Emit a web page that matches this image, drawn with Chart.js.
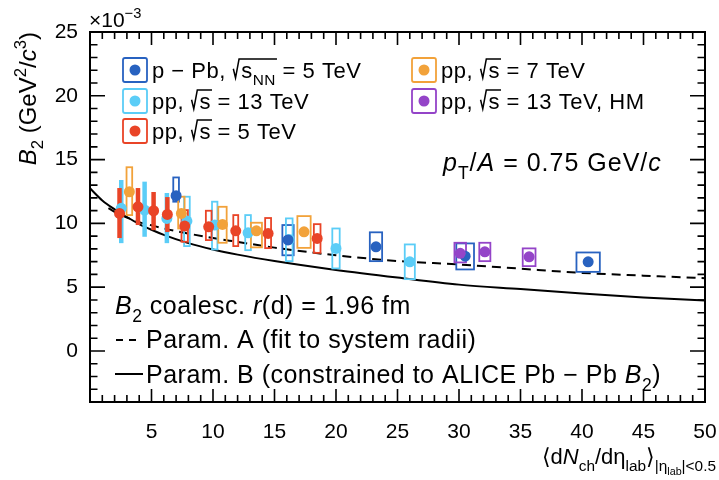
<!DOCTYPE html>
<html>
<head>
<meta charset="utf-8">
<script src="https://cdn.jsdelivr.net/npm/chart.js@4.4.1/dist/chart.umd.min.js"></script>
<style>
  html, body { margin: 0; padding: 0; background: #fff; }
</style>
</head>
<body>
<canvas id="myChart" width="719" height="480"></canvas>
<script>
//tick labels
var xTickLabels = [5, 10, 15, 20, 25, 30, 35, 40, 45, 50];
var yTickLabels = [0, 5, 10, 15, 20, 25];

//p-Pb, 5 TeV
var pPbX = [7.0, 16.1, 23.25, 30.5, 40.5];
var pPbY = [12.17, 8.7, 8.16, 7.43, 6.99];
var pPbLo = [11.7, 7.5, 7.04, 6.39, 6.2];
var pPbHi = [13.6, 9.87, 9.3, 8.43, 7.72];
var pPbXErr = [0.23, 0.46, 0.5, 0.72, 0.95];

//pp, 13 TeV (xErr 0 = stat bar only)
var pp13X = [2.54, 4.44, 6.25, 7.88, 10.14, 12.85, 16.2, 20.0, 26.0];
var pp13Y = [11.18, 11.04, 10.39, 10.18, 9.87, 9.26, 8.74, 8.04, 6.99];
var pp13Lo = [8.45, 8.95, 8.45, 8.22, 7.96, 7.9, 7.04, 6.47, 5.63];
var pp13Hi = [13.4, 13.27, 12.38, 12.09, 11.7, 10.65, 10.39, 9.6, 8.35];
var pp13XErr = [0, 0, 0, 0.23, 0.22, 0.23, 0.27, 0.3, 0.41];

//pp, 5 TeV
var pp5X = [2.4, 3.9, 5.17, 6.29, 7.7, 9.65, 11.85, 14.48, 18.47];
var pp5Y = [10.78, 11.3, 10.99, 10.7, 9.79, 9.73, 9.42, 9.21, 8.82];
var pp5Lo = [8.85, 9.87, 9.47, 9.32, 8.56, 8.69, 8.22, 8.06, 7.69];
var pp5Hi = [12.77, 12.77, 12.46, 12.06, 11.04, 10.99, 10.65, 10.42, 9.94];
var pp5XErr = [0, 0, 0, 0, 0.26, 0.23, 0.2, 0.24, 0.27];

//pp, 7 TeV
var pp7X = [3.2, 7.43, 10.77, 13.53, 17.4];
var pp7Y = [12.48, 10.78, 9.92, 9.42, 9.34];
var pp7Lo = [10.65, 9.6, 8.48, 8.12, 8.08];
var pp7Hi = [14.4, 12.09, 11.3, 10.05, 10.57];
var pp7XErr = [0.23, 0.26, 0.34, 0.45, 0.54];

//pp, 13 TeV HM
var hmX = [30.1, 32.1, 35.7];
var hmY = [7.65, 7.77, 7.38];
var hmLo = [6.94, 7.04, 6.65];
var hmHi = [8.48, 8.48, 8.04];
var hmXErr = [0.47, 0.45, 0.52];

//coalescence curves
var paramAX = [1.5, 2, 3, 4, 5, 6, 8, 10, 12, 15, 20, 25, 30, 35, 40, 45, 50];
var paramAY = [11.2, 10.9, 10.45, 10.1, 9.85, 9.6, 9.2, 8.85, 8.55, 8.1, 7.5, 7.05, 6.78, 6.45, 6.12, 5.9, 5.7];
var paramBX = [0, 1, 2, 3, 4, 5, 6, 8, 10, 12, 15, 20, 25, 30, 35, 40, 45, 50];
var paramBY = [12.75, 11.8, 11.1, 10.5, 9.95, 9.5, 9.1, 8.45, 7.95, 7.55, 7.05, 6.35, 5.75, 5.2, 4.85, 4.5, 4.2, 3.95];

var FONT = '"Liberation Sans", "DejaVu Sans", Arial, sans-serif';

var series = [
    { x: pPbX, y: pPbY, lo: pPbLo, hi: pPbHi, w: pPbXErr, color: '#2862c0', order: 4 },
    { x: pp13X, y: pp13Y, lo: pp13Lo, hi: pp13Hi, w: pp13XErr, color: '#5bcdf7', order: 5 },
    { x: pp5X, y: pp5Y, lo: pp5Lo, hi: pp5Hi, w: pp5XErr, color: '#e94427', order: 2 },
    { x: pp7X, y: pp7Y, lo: pp7Lo, hi: pp7Hi, w: pp7XErr, color: '#f2a23a', order: 3 },
    { x: hmX, y: hmY, lo: hmLo, hi: hmHi, w: hmXErr, color: '#9444c8', order: 1 }
];

function sq(inner) { return { sqrt: inner }; }
var legendItems = [
    { s: 0, col: 0, row: 0, parts: [{ t: 'p \u2212 Pb, ' }, sq([{ t: 's' }, { sub: [{ t: 'NN' }] }]), { t: ' = 5 TeV' }] },
    { s: 3, col: 1, row: 0, parts: [{ t: 'pp, ' }, sq([{ t: 's' }]), { t: ' = 7 TeV' }] },
    { s: 1, col: 0, row: 1, parts: [{ t: 'pp, ' }, sq([{ t: 's' }]), { t: ' = 13 TeV' }] },
    { s: 4, col: 1, row: 1, parts: [{ t: 'pp, ' }, sq([{ t: 's' }]), { t: ' = 13 TeV, HM' }] },
    { s: 2, col: 0, row: 2, parts: [{ t: 'pp, ' }, sq([{ t: 's' }]), { t: ' = 5 TeV' }] }
];

//draw text with sub/superscripts, returns width
function rich(ctx, parts, x, y, size, draw) {
    var cx = x;
    parts.forEach(function (p) {
        if (p.sub) { cx += rich(ctx, p.sub, cx, y + size * 0.3, size * 0.7, draw); return; }
        if (p.sup) { cx += rich(ctx, p.sup, cx, y - size * 0.42, size * 0.7, draw); return; }
        if (p.sqrt) {
            var w0 = size * 0.4;
            var inner = rich(ctx, p.sqrt, 0, 0, size, false);
            if (draw) {
                ctx.save();
                ctx.lineWidth = 1.5;
                ctx.strokeStyle = '#000';
                ctx.beginPath();
                ctx.moveTo(cx + size * 0.04, y - size * 0.42);
                ctx.lineTo(cx + size * 0.14, y);
                ctx.lineTo(cx + size * 0.3, y - size * 0.86);
                ctx.lineTo(cx + w0 + inner + 1, y - size * 0.86);
                ctx.stroke();
                ctx.restore();
                rich(ctx, p.sqrt, cx + w0, y, size, true);
            }
            cx += w0 + inner;
            return;
        }
        ctx.font = (p.it ? 'italic ' : '') + size + 'px ' + FONT;
        if (draw) ctx.fillText(p.t, cx, y);
        cx += ctx.measureText(p.t).width;
    });
    return cx - x;
}

var overlay = {
    id: 'overlay',
    beforeDatasetsDraw: function (chart) { chart.$errDone = false; },
    beforeDatasetDraw: function (chart, args) {
        if (chart.$errDone || !chart.data.datasets[args.index].marker) return;
        chart.$errDone = true;
        var ctx = chart.ctx, xs = chart.scales.x, ys = chart.scales.y, a = chart.chartArea;
        ctx.save();
        ctx.beginPath();
        ctx.rect(a.left, a.top, a.right - a.left, a.bottom - a.top);
        ctx.clip();
        series.forEach(function (s) {
            ctx.strokeStyle = s.color;
            for (var i = 0; i < s.x.length; i++) {
                var px = xs.getPixelForValue(s.x[i]);
                var top = ys.getPixelForValue(s.hi[i]);
                var bot = ys.getPixelForValue(s.lo[i]);
                if (s.w[i] > 0) {
                    var l = xs.getPixelForValue(s.x[i] - s.w[i]);
                    var r = xs.getPixelForValue(s.x[i] + s.w[i]);
                    ctx.lineWidth = 1.8;
                    ctx.strokeRect(l, top, r - l, bot - top);
                } else {
                    ctx.lineWidth = 4.5;
                    ctx.beginPath();
                    ctx.moveTo(px, top);
                    ctx.lineTo(px, bot);
                    ctx.stroke();
                }
            }
        });
        ctx.restore();
    },
    afterDraw: function (chart) {
        var ctx = chart.ctx, xs = chart.scales.x, ys = chart.scales.y, a = chart.chartArea;
        ctx.save();
        ctx.strokeStyle = '#000';
        ctx.fillStyle = '#000';
        //frame
        ctx.lineWidth = 2;
        ctx.strokeRect(a.left, a.top, a.right - a.left, a.bottom - a.top);
        //ticks, inward on all sides
        ctx.lineWidth = 1.6;
        ctx.beginPath();
        for (var v = 0; v <= 50; v++) {
            var px = xs.getPixelForValue(v);
            var len = v % 5 === 0 ? 13 : 7;
            ctx.moveTo(px, a.bottom); ctx.lineTo(px, a.bottom - len);
            ctx.moveTo(px, a.top); ctx.lineTo(px, a.top + len);
        }
        for (var w = -4; w <= 25; w++) {
            var py = ys.getPixelForValue(w);
            var len2 = w % 5 === 0 ? 15 : 7.5;
            ctx.moveTo(a.left, py); ctx.lineTo(a.left + len2, py);
            ctx.moveTo(a.right, py); ctx.lineTo(a.right - len2, py);
        }
        ctx.stroke();

        ctx.textBaseline = 'alphabetic';
        //exponent
        rich(ctx, [{ t: '\u00d710' }, { sup: [{ t: '\u22123' }] }], 89, 27, 21, true);

        //y title, rotated
        var yt = [{ t: 'B', it: true }, { sub: [{ t: '2' }] }, { t: ' (GeV' }, { sup: [{ t: '2' }] }, { t: '/' }, { t: 'c', it: true }, { sup: [{ t: '3' }] }, { t: ')' }];
        var ytw = rich(ctx, yt, 0, 0, 24, false);
        ctx.save();
        ctx.translate(36, a.top + ytw);
        ctx.rotate(-Math.PI / 2);
        rich(ctx, yt, 0, 0, 24, true);
        ctx.restore();

        //x title
        var xt = [{ t: '\u27e8d' }, { t: 'N', it: true }, { sub: [{ t: 'ch' }] }, { t: '/d\u03b7' }, { sub: [{ t: 'lab' }] }, { t: '\u27e9' },
            { sub: [{ t: '|\u03b7' }, { sub: [{ t: 'lab' }] }, { t: '|<0.5' }] }];
        var xtw = rich(ctx, xt, 0, 0, 22, false);
        rich(ctx, xt, 716 - xtw, 464, 22, true);

        //pT/A
        ctx.letterSpacing = '1px';
        rich(ctx, [{ t: 'p', it: true }, { sub: [{ t: 'T' }] }, { t: '/' }, { t: 'A', it: true }, { t: ' = 0.75 GeV/' }, { t: 'c', it: true }], 443, 171, 25, true);

        //model text
        ctx.letterSpacing = '0.5px';
        rich(ctx, [{ t: 'B', it: true }, { sub: [{ t: '2' }] }, { t: ' coalesc. ' }, { t: 'r', it: true }, { t: '(d) = 1.96 fm' }], 115, 314, 25, true);
        ctx.lineWidth = 2;
        ctx.setLineDash([7, 6]);
        ctx.beginPath(); ctx.moveTo(116, 340); ctx.lineTo(142, 340); ctx.stroke();
        ctx.setLineDash([]);
        rich(ctx, [{ t: 'Param. A (fit to system radii)' }], 146, 348, 25, true);
        ctx.beginPath(); ctx.moveTo(115, 374); ctx.lineTo(143, 374); ctx.stroke();
        rich(ctx, [{ t: 'Param. B (constrained to ALICE Pb \u2212 Pb ' }, { t: 'B', it: true }, { sub: [{ t: '2' }] }, { t: ')' }], 146, 383, 25, true);

        //legend
        ctx.letterSpacing = '0.5px';
        var colX = [123, 412], rowY = [70, 101, 131];
        legendItems.forEach(function (it) {
            var s = series[it.s];
            var bx = colX[it.col], cy = rowY[it.row];
            ctx.strokeStyle = s.color;
            ctx.lineWidth = 1.8;
            ctx.beginPath();
            ctx.roundRect(bx, cy - 12, 24, 24, 2);
            ctx.stroke();
            ctx.fillStyle = s.color;
            ctx.beginPath();
            ctx.arc(bx + 12, cy, 5.5, 0, Math.PI * 2);
            ctx.fill();
            ctx.fillStyle = '#000';
            ctx.strokeStyle = '#000';
            rich(ctx, it.parts, bx + 29, cy + 8, 22, true);
        });
        ctx.restore();
    }
};

var datasets = series.map(function (s) {
    return {
        marker: true,
        order: s.order,
        data: s.x.map(function (x, i) { return { x: x, y: s.y[i] }; }),
        pointRadius: 5.5,
        pointBackgroundColor: s.color,
        pointBorderWidth: 0,
        showLine: false
    };
});
datasets.push({
    order: 10,
    data: paramAX.map(function (x, i) { return { x: x, y: paramAY[i] }; }),
    showLine: true, borderColor: '#000', borderWidth: 2, borderDash: [9, 6],
    pointRadius: 0, cubicInterpolationMode: 'monotone'
});
datasets.push({
    order: 11,
    data: paramBX.map(function (x, i) { return { x: x, y: paramBY[i] }; }),
    showLine: true, borderColor: '#000', borderWidth: 2,
    pointRadius: 0, cubicInterpolationMode: 'monotone'
});

var tickFont = { family: FONT, size: 21 };
var ctx = document.getElementById('myChart').getContext('2d');
var myChart = new Chart(ctx, {
    type: 'scatter',
    data: { datasets: datasets },
    plugins: [overlay],
    options: {
        responsive: false,
        animation: false,
        devicePixelRatio: 1,
        layout: { padding: { left: 0, right: 14, top: 32, bottom: 0 } },
        plugins: { legend: { display: false }, tooltip: { enabled: false } },
        scales: {
            x: {
                type: 'linear', min: 0, max: 50,
                grid: { display: false, drawTicks: false }, border: { display: false },
                afterBuildTicks: function (s) { s.ticks = xTickLabels.map(function (v) { return { value: v }; }); },
                afterFit: function (s) { s.height = 78; s.paddingLeft = 0; s.paddingRight = 0; },
                ticks: { font: tickFont, color: '#000', padding: 18, maxRotation: 0, autoSkip: false }
            },
            y: {
                type: 'linear', min: -4, max: 25,
                grid: { display: false, drawTicks: false }, border: { display: false },
                afterBuildTicks: function (s) { s.ticks = yTickLabels.map(function (v) { return { value: v }; }); },
                afterFit: function (s) { s.width = 90; s.paddingTop = 0; s.paddingBottom = 0; },
                ticks: { font: tickFont, color: '#000', padding: 12 }
            }
        }
    }
});
</script>
</body>
</html>
